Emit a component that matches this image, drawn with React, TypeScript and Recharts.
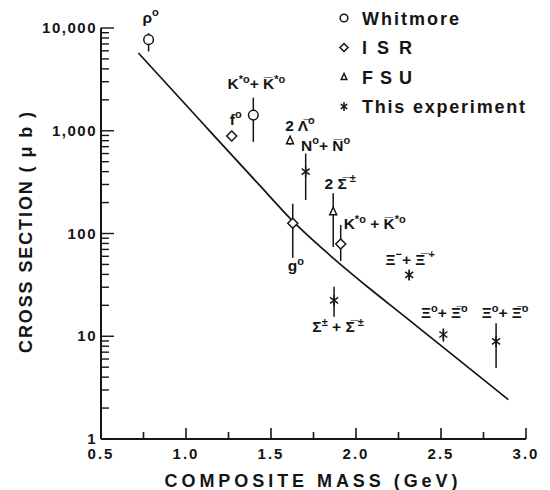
import {
  ComposedChart,
  ErrorBar,
  Legend,
  Line,
  Scatter,
  XAxis,
  YAxis,
} from "recharts";

// theory curve
const curveMass = [0.72, 1.082, 1.435, 1.628, 1.847, 2.071, 2.288, 2.504, 2.896];
const curveSigma = [5710, 1264, 292, 132, 61.4, 30.0, 15.5, 8.0, 2.42];

// Whitmore
const whitmoreIds = ["rho", "kstarW"];
const whitmoreMass = [0.78, 1.396];
const whitmoreSigma = [7700, 1420];
const whitmoreLow = [5900, 780];
const whitmoreHigh = [8900, 2100];

// ISR
const isrIds = ["f0", "g0", "kstarI"];
const isrMass = [1.269, 1.628, 1.91];
const isrSigma = [890, 126, 79];
const isrLow = [890, 58, 54];
const isrHigh = [890, 195, 121];

// FSU
const fsuIds = ["lambda", "sigmaF"];
const fsuMass = [1.612, 1.866];
const fsuSigma = [800, 163];
const fsuLow = [725, 74];
const fsuHigh = [875, 246];

// This experiment
const expIds = ["n0", "sigmaE", "xiM", "xi0a", "xi0b"];
const expMass = [1.704, 1.871, 2.313, 2.514, 2.824];
const expSigma = [400, 22.3, 39.5, 10.4, 8.9];
const expLow = [212, 15.5, 35.3, 8.85, 4.9];
const expHigh = [600, 30.4, 43.4, 11.9, 13.4];

const xMajorTicks = [0.5, 1.0, 1.5, 2.0, 2.5, 3.0];
const xMinorTicks = [0.75, 1.25, 1.75, 2.25, 2.75];
const xTickLabels = ["0.5", "1.0", "1.5", "2.0", "2.5", "3.0"];
const yMajorTicks = [1, 10, 100, 1000, 10000];
const yTickLabels = ["1", "10", "100", "1,000", "10,000"];
const yMinorSteps = [2, 3, 4, 5, 6, 7, 8, 9];

const legendNames = ["Whitmore", "ISR", "FSU", "This experiment"];

type Seg = [string, "n" | "s"];
const labelSegs: Record<string, Seg[]> = {
  rho: [["ρ", "n"], ["o", "s"]],
  kstarW: [["K", "n"], ["*o", "s"], ["+ ", "n"], ["K\u0305", "n"], ["*o", "s"]],
  f0: [["f", "n"], ["o", "s"]],
  g0: [["g", "n"], ["o", "s"]],
  kstarI: [["K", "n"], ["*o", "s"], [" + ", "n"], ["K\u0305", "n"], ["*o", "s"]],
  lambda: [["2 ", "n"], ["Λ\u0305", "n"], ["o", "s"]],
  sigmaF: [["2 ", "n"], ["Σ\u0305", "n"], [" ±", "s"]],
  n0: [["N", "n"], ["o", "s"], ["+ ", "n"], ["N\u0305", "n"], ["o", "s"]],
  sigmaE: [["Σ", "n"], ["±", "s"], [" + ", "n"], ["Σ\u0305", "n"], [" ±", "s"]],
  xiM: [["Ξ", "n"], ["−", "s"], ["+ ", "n"], ["Ξ\u0305", "n"], [" +", "s"]],
  xi0a: [["Ξ", "n"], ["o", "s"], ["+ ", "n"], ["Ξ\u0305", "n"], ["o", "s"]],
  xi0b: [["Ξ", "n"], ["o", "s"], ["+ ", "n"], ["Ξ\u0305", "n"], ["o", "s"]],
};

// label offset from its point, px (dx, baseline dy)
const labelOffset: Record<string, [number, number]> = {
  rho: [2, -17],
  kstarW: [3, -26],
  f0: [4, -11],
  g0: [3, 48],
  kstarI: [34, -15],
  lambda: [10, -10],
  sigmaF: [7, -23],
  n0: [20, -21],
  sigmaE: [4, 32],
  xiM: [1, -10],
  xi0a: [1, -16],
  xi0b: [9, -23],
};

const INK = "#151515";
const FONT = "'Liberation Sans', Arial, sans-serif";

const build = (ids: string[], mass: number[], sigma: number[], lo: number[], hi: number[]) =>
  ids.map((id, i) => ({
    id,
    mass: mass[i],
    sigma: sigma[i],
    err: [sigma[i] - lo[i], hi[i] - sigma[i]],
  }));

const whitmoreData = build(whitmoreIds, whitmoreMass, whitmoreSigma, whitmoreLow, whitmoreHigh);
const isrData = build(isrIds, isrMass, isrSigma, isrLow, isrHigh);
const fsuData = build(fsuIds, fsuMass, fsuSigma, fsuLow, fsuHigh);
const expData = build(expIds, expMass, expSigma, expLow, expHigh);
const curveData = curveMass.map((m, i) => ({ mass: m, sigma: curveSigma[i] }));

const yMinorTicks = yMajorTicks.slice(0, -1).flatMap((d) => yMinorSteps.map((k) => d * k));

type Kind = "circle" | "diamond" | "triangle" | "star";

function Marker({ kind, cx, cy, s = 1 }: { kind: Kind; cx: number; cy: number; s?: number }) {
  const common = { fill: "#fff", stroke: INK, strokeWidth: 1.5 };
  if (kind === "circle") return <circle cx={cx} cy={cy} r={4.8 * s} {...common} />;
  if (kind === "diamond")
    return (
      <path
        d={`M${cx},${cy - 5 * s}L${cx + 5 * s},${cy}L${cx},${cy + 5 * s}L${cx - 5 * s},${cy}Z`}
        {...common}
      />
    );
  if (kind === "triangle")
    return (
      <path
        d={`M${cx},${cy - 4.5 * s}L${cx + 3.5 * s},${cy + 3 * s}L${cx - 3.5 * s},${cy + 3 * s}Z`}
        {...common}
      />
    );
  return (
    <g stroke={INK} strokeWidth={1.5}>
      <line x1={cx} y1={cy - 5.5 * s} x2={cx} y2={cy + 5.5 * s} />
      <line x1={cx - 4 * s} y1={cy - 3 * s} x2={cx + 4 * s} y2={cy + 3 * s} />
      <line x1={cx - 4 * s} y1={cy + 3 * s} x2={cx + 4 * s} y2={cy - 3 * s} />
    </g>
  );
}

function Annot({ x, y, segs }: { x: number; y: number; segs: Seg[] }) {
  let level = 0;
  return (
    <text x={x} y={y} textAnchor="middle" fontFamily={FONT} fontWeight="bold" fill={INK}>
      {segs.map(([t, k], i) => {
        const target = k === "s" ? -6.5 : 0;
        const dy = target - level;
        level = target;
        return (
          <tspan key={i} dy={dy} fontSize={k === "s" ? 11 : 15.5}>
            {t}
          </tspan>
        );
      })}
    </text>
  );
}

const pointShape = (kind: Kind) => (p: any) => {
  const id = p.payload?.id as string;
  const off = labelOffset[id] ?? [0, 0];
  return (
    <g>
      <Marker kind={kind} cx={p.cx} cy={p.cy} />
      {labelSegs[id] && <Annot x={p.cx + off[0]} y={p.cy + off[1]} segs={labelSegs[id]} />}
    </g>
  );
};

const XTick = ({ x, y, payload }: any) => {
  const i = xMajorTicks.indexOf(payload.value);
  const major = i >= 0;
  return (
    <g>
      <line x1={x} y1={y} x2={x} y2={y - (major ? 11 : 7)} stroke={INK} strokeWidth={1.6} />
      {major && (
        <text
          x={x}
          y={y + 20}
          textAnchor="middle"
          fontFamily={FONT}
          fontWeight="bold"
          fontSize={15}
          letterSpacing={2}
          fill={INK}
        >
          {xTickLabels[i]}
        </text>
      )}
    </g>
  );
};

const YTick = ({ x, y, payload }: any) => {
  const i = yMajorTicks.indexOf(payload.value);
  const major = i >= 0;
  return (
    <g>
      <line x1={x} y1={y} x2={x + (major ? 13 : 8)} y2={y} stroke={INK} strokeWidth={1.4} />
      {major && (
        <text
          x={x - 4}
          y={y + 5}
          textAnchor="end"
          fontFamily={FONT}
          fontWeight="bold"
          fontSize={15}
          letterSpacing={1.5}
          fill={INK}
        >
          {yTickLabels[i]}
        </text>
      )}
    </g>
  );
};

const legendKinds: Kind[] = ["circle", "diamond", "triangle", "star"];
const legendWidths = [97, 50, 50, 163];

const LegendBox = () => (
  <svg width={220} height={125}>
    {legendNames.map((name, i) => {
      const cy = 18 + i * 29.5;
      return (
        <g key={name}>
          <Marker kind={legendKinds[i]} cx={14} cy={cy} s={0.8} />
          <text
            x={32}
            y={cy + 6.5}
            fontFamily={FONT}
            fontWeight="bold"
            fontSize={18}
            fill={INK}
            textLength={legendWidths[i]}
            lengthAdjust="spacing"
          >
            {name}
          </text>
        </g>
      );
    })}
  </svg>
);

export default function App() {
  return (
    <div style={{ position: "absolute", left: 0, top: 0, background: "#fff" }}>
      <ComposedChart width={550} height={490} margin={{ top: 28, right: 24, bottom: 0, left: 0 }}>
        <XAxis
          type="number"
          dataKey="mass"
          domain={[0.5, 3.0]}
          ticks={[...xMajorTicks, ...xMinorTicks]}
          interval={0}
          height={51}
          tickSize={0}
          tickMargin={0}
          tickLine={false}
          axisLine={{ stroke: INK, strokeWidth: 2 }}
          tick={<XTick />}
          label={{
            content: ({ viewBox }: any) => (
              <text
                x={viewBox.x + viewBox.width / 2 - 2.5}
                y={viewBox.y + 47.5}
                textAnchor="middle"
                fontFamily={FONT}
                fontWeight="bold"
                fontSize={18}
                fill={INK}
                textLength={293}
                lengthAdjust="spacing"
              >
                COMPOSITE MASS (GeV)
              </text>
            ),
          }}
        />
        <YAxis
          type="number"
          dataKey="sigma"
          scale="log"
          domain={[1, 10000]}
          ticks={[...yMajorTicks, ...yMinorTicks]}
          interval={0}
          width={101}
          tickSize={0}
          tickMargin={0}
          tickLine={false}
          axisLine={{ stroke: INK, strokeWidth: 2 }}
          tick={<YTick />}
          label={{
            content: ({ viewBox }: any) => {
              const cx = 31.5;
              const cy = viewBox.y + viewBox.height / 2 - 1;
              return (
                <text
                  x={cx}
                  y={cy}
                  transform={`rotate(-90, ${cx}, ${cy})`}
                  textAnchor="middle"
                  fontFamily={FONT}
                  fontWeight="bold"
                  fontSize={18}
                  fill={INK}
                  textLength={241}
                  lengthAdjust="spacing"
                >
                  CROSS SECTION ( μ b )
                </text>
              );
            },
          }}
        />
        <Legend
          layout="horizontal"
          verticalAlign="middle"
          align="center"
          content={<LegendBox />}
          wrapperStyle={{ top: 0, left: 330, width: 220, height: 125 }}
        />
        <Line
          data={curveData}
          dataKey="sigma"
          type="monotone"
          stroke={INK}
          strokeWidth={1.7}
          dot={false}
          activeDot={false}
          isAnimationActive={false}
        />
        <Scatter data={whitmoreData} shape={pointShape("circle")} isAnimationActive={false}>
          <ErrorBar dataKey="err" direction="y" width={0} stroke={INK} strokeWidth={1.5} isAnimationActive={false} />
        </Scatter>
        <Scatter data={isrData} shape={pointShape("diamond")} isAnimationActive={false}>
          <ErrorBar dataKey="err" direction="y" width={0} stroke={INK} strokeWidth={1.5} isAnimationActive={false} />
        </Scatter>
        <Scatter data={fsuData} shape={pointShape("triangle")} isAnimationActive={false}>
          <ErrorBar dataKey="err" direction="y" width={0} stroke={INK} strokeWidth={1.5} isAnimationActive={false} />
        </Scatter>
        <Scatter data={expData} shape={pointShape("star")} isAnimationActive={false}>
          <ErrorBar dataKey="err" direction="y" width={0} stroke={INK} strokeWidth={1.5} isAnimationActive={false} />
        </Scatter>
      </ComposedChart>
    </div>
  );
}
